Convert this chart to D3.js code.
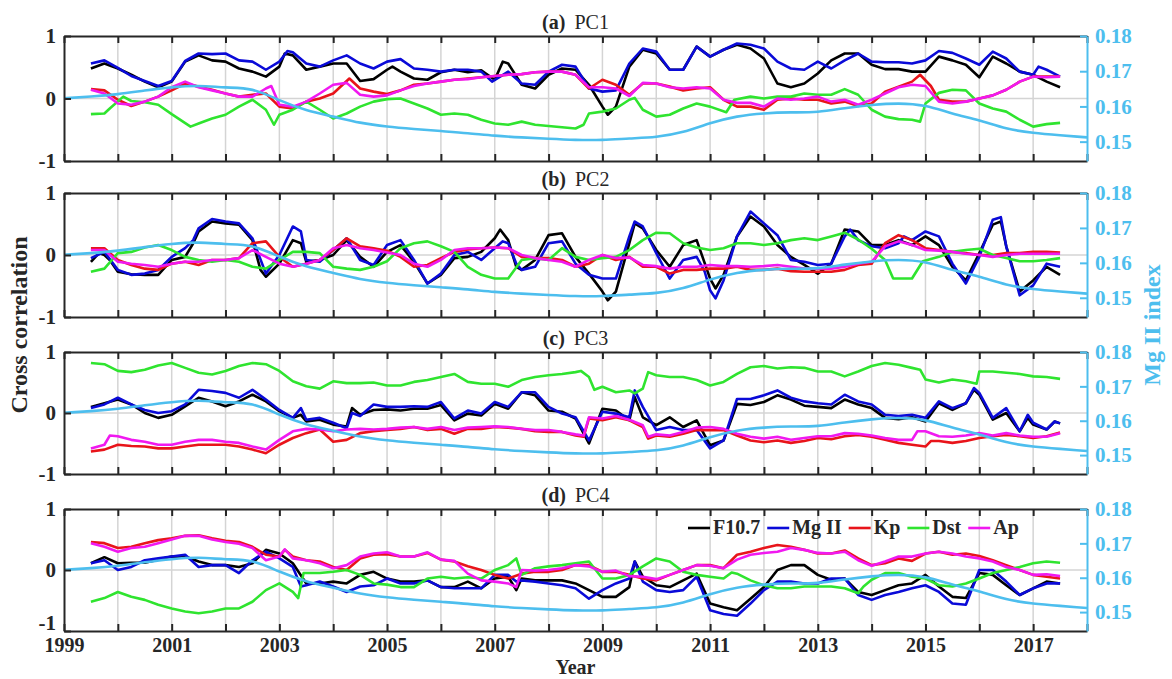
<!DOCTYPE html>
<html lang="en">
<head>
<meta charset="UTF-8">
<title>Cross correlation of PC1-PC4 with solar and geomagnetic indices</title>
<script src="https://d3js.org/d3.v7.min.js"></script>
<style>
  body { margin: 0; background: #fff; }
  svg { display: block; font-family: "Liberation Serif", "Times New Roman", serif; }
</style>
</head>
<body>
<svg width="1172" height="679"></svg>
<script>
// ---- data ----
const yearTicks = [1999, 2000, 2001, 2002, 2003, 2004, 2005, 2006, 2007, 2008, 2009,
                   2010, 2011, 2012, 2013, 2014, 2015, 2016, 2017, 2018];
const yearLabels = [1999, 2001, 2003, 2005, 2007, 2009, 2011, 2013, 2015, 2017];
const corrTicks = [-1, 0, 1];
const mgTicks = [0.15, 0.16, 0.17, 0.18];
const seriesNames = ["F10.7", "Mg II", "Kp", "Dst", "Ap"];
const seriesColors = ["#000000", "#0a0ad8", "#e8141a", "#2fe42f", "#f019f0"];
const panelLetters = ["(a)", "(b)", "(c)", "(d)"];
const panelNames = ["PC1", "PC2", "PC3", "PC4"];

// Mg II index (right axis)
const mgIndex = [[1999,.1623],[1999.5,.1628],[2000,.1635],[2000.5,.1645],[2001,.1654],[2001.5,.1658],[2002,.1654],[2002.5,.1647],[2003,.1618],[2003.5,.159],[2004,.1571],[2004.5,.1554],[2005,.1543],[2005.5,.1536],[2006,.153],[2006.5,.1524],[2007,.1517],[2007.5,.1512],[2008,.1508],[2008.5,.1505],[2009,.1505],[2009.5,.1509],[2010,.1514],[2010.5,.1528],[2011,.1552],[2011.5,.1571],[2012,.158],[2012.5,.1583],[2013,.1585],[2013.5,.1595],[2014,.1604],[2014.5,.1608],[2015,.1601],[2015.5,.158],[2016,.156],[2016.5,.1538],[2017,.1525],[2017.5,.1518],[2018,.1512]];

// (a) PC1
const pc1F107 = [[1999.5,.48],[1999.75,.56],[2000,.48],[2000.25,.38],[2000.5,.27],[2000.75,.18],[2001,.27],[2001.25,.59],[2001.5,.69],[2001.75,.61],[2002,.59],[2002.25,.48],[2002.5,.43],[2002.75,.35],[2003,.51],[2003.1,.72],[2003.25,.69],[2003.5,.46],[2003.75,.51],[2004,.56],[2004.25,.56],[2004.5,.28],[2004.75,.31],[2005,.46],[2005.1,.51],[2005.25,.43],[2005.5,.32],[2005.75,.3],[2006,.42],[2006.25,.46],[2006.5,.42],[2006.75,.45],[2007,.3],[2007.15,.59],[2007.25,.56],[2007.5,.22],[2007.75,.16],[2008,.38],[2008.25,.48],[2008.5,.46],[2008.75,.22],[2009,-.13],[2009.1,-.26],[2009.25,-.13],[2009.5,.51],[2009.75,.78],[2010,.72],[2010.25,.46],[2010.5,.46],[2010.75,.83],[2011,.67],[2011.25,.78],[2011.5,.86],[2011.75,.8],[2012,.64],[2012.25,.24],[2012.5,.18],[2012.75,.24],[2013,.4],[2013.25,.61],[2013.5,.72],[2013.75,.72],[2014,.54],[2014.25,.47],[2014.5,.47],[2014.75,.43],[2015,.43],[2015.25,.67],[2015.5,.61],[2015.75,.54],[2016,.34],[2016.25,.67],[2016.5,.56],[2016.75,.43],[2017,.38],[2017.25,.27],[2017.5,.18]];
const pc1MgII = [[1999.5,.56],[1999.75,.61],[2000,.49],[2000.25,.36],[2000.5,.28],[2000.75,.2],[2001,.28],[2001.25,.6],[2001.5,.72],[2001.75,.71],[2002,.72],[2002.25,.61],[2002.5,.59],[2002.75,.46],[2003,.59],[2003.15,.76],[2003.25,.74],[2003.5,.56],[2003.75,.51],[2004,.61],[2004.25,.69],[2004.5,.56],[2004.75,.48],[2005,.59],[2005.25,.63],[2005.5,.48],[2005.75,.46],[2006,.43],[2006.25,.46],[2006.5,.46],[2006.75,.43],[2006.95,.27],[2007.25,.43],[2007.5,.24],[2007.75,.22],[2008,.43],[2008.25,.54],[2008.5,.51],[2008.75,.16],[2009,.11],[2009.25,.13],[2009.5,.56],[2009.75,.8],[2010,.75],[2010.25,.46],[2010.5,.46],[2010.75,.83],[2011,.67],[2011.25,.78],[2011.5,.88],[2011.75,.86],[2012,.8],[2012.25,.59],[2012.5,.48],[2012.75,.46],[2013,.59],[2013.25,.48],[2013.5,.61],[2013.75,.72],[2014,.59],[2014.25,.58],[2014.5,.58],[2014.75,.56],[2015,.61],[2015.25,.76],[2015.5,.73],[2015.75,.64],[2016,.54],[2016.25,.75],[2016.5,.64],[2016.75,.43],[2017,.38],[2017.1,.51],[2017.25,.46],[2017.5,.35]];
const pc1Kp = [[1999.5,.15],[1999.75,.13],[2000,-.02],[2000.25,-.12],[2000.5,-.05],[2000.75,.03],[2001,.13],[2001.25,.24],[2001.5,.19],[2001.75,.14],[2002,.08],[2002.25,.03],[2002.5,.06],[2002.75,.08],[2003,-.13],[2003.25,-.16],[2003.5,-.05],[2003.75,0],[2004,.08],[2004.3,.32],[2004.5,.16],[2004.75,.11],[2005,.07],[2005.25,.13],[2005.5,.22],[2005.75,.24],[2006,.27],[2006.25,.3],[2006.5,.32],[2006.75,.34],[2007,.36],[2007.25,.38],[2007.5,.39],[2007.75,.42],[2008,.43],[2008.25,.43],[2008.5,.38],[2008.75,.16],[2009,.3],[2009.25,.22],[2009.5,.06],[2009.75,.24],[2010,.24],[2010.25,.19],[2010.5,.13],[2010.75,.16],[2011,.18],[2011.25,-.02],[2011.5,-.13],[2011.75,-.13],[2012,-.18],[2012.25,-.02],[2012.5,0],[2012.75,-.02],[2013,-.02],[2013.25,-.08],[2013.5,-.05],[2013.75,-.12],[2014,-.08],[2014.25,.11],[2014.5,.19],[2014.75,.27],[2014.9,.38],[2015.1,.2],[2015.25,-.02],[2015.5,-.05],[2015.75,-.05],[2016,0],[2016.25,.05],[2016.5,.14],[2016.75,.27],[2017,.35],[2017.25,.35],[2017.5,.35]];
const pc1Dst = [[1999.5,-.25],[1999.75,-.24],[1999.85,-.16],[2000.1,.03],[2000.25,-.04],[2000.5,-.06],[2000.75,-.1],[2001,-.25],[2001.35,-.45],[2001.5,-.4],[2001.75,-.32],[2002,-.26],[2002.25,-.13],[2002.5,-.02],[2002.75,-.18],[2002.9,-.42],[2003,-.26],[2003.25,-.18],[2003.5,-.05],[2003.75,-.18],[2004,-.32],[2004.25,-.24],[2004.5,-.13],[2004.75,-.05],[2005,-.01],[2005.25,0],[2005.5,-.08],[2005.75,-.16],[2006,-.26],[2006.25,-.24],[2006.5,-.26],[2006.75,-.34],[2007,-.4],[2007.25,-.42],[2007.5,-.37],[2007.75,-.42],[2008,-.44],[2008.25,-.46],[2008.5,-.48],[2008.65,-.42],[2008.75,-.24],[2009,-.21],[2009.25,-.16],[2009.5,-.02],[2009.6,.01],[2009.75,-.18],[2010,-.29],[2010.25,-.26],[2010.5,-.16],[2010.75,-.08],[2011,-.13],[2011.3,-.22],[2011.45,-.02],[2011.75,.03],[2012,0],[2012.25,.03],[2012.5,.03],[2012.75,.08],[2013,.06],[2013.25,.06],[2013.5,.15],[2013.75,.06],[2014,-.18],[2014.25,-.29],[2014.5,-.33],[2014.75,-.34],[2014.9,-.37],[2015,-.08],[2015.25,.09],[2015.5,.14],[2015.75,.13],[2016,-.08],[2016.25,-.16],[2016.5,-.21],[2016.75,-.34],[2017,-.45],[2017.25,-.41],[2017.5,-.39]];
const pc1Ap = [[1999.5,.14],[1999.75,.08],[2000,-.08],[2000.25,-.1],[2000.5,-.05],[2000.75,.03],[2001,.18],[2001.25,.27],[2001.5,.18],[2001.75,.13],[2002,.08],[2002.25,.03],[2002.5,.03],[2002.75,.16],[2002.85,.2],[2003,-.1],[2003.25,-.13],[2003.5,-.05],[2003.75,.08],[2004,.22],[2004.25,.25],[2004.5,.06],[2004.75,.03],[2005,.05],[2005.25,.13],[2005.5,.2],[2005.75,.24],[2006,.27],[2006.25,.3],[2006.5,.31],[2006.75,.34],[2007,.36],[2007.25,.38],[2007.5,.39],[2007.75,.42],[2008,.43],[2008.25,.43],[2008.5,.38],[2008.75,.18],[2009,.18],[2009.25,.16],[2009.5,.04],[2009.75,.25],[2010,.24],[2010.25,.18],[2010.5,.16],[2010.75,.18],[2011,.16],[2011.25,-.02],[2011.5,-.07],[2011.75,-.07],[2012,-.13],[2012.25,0],[2012.5,-.02],[2012.75,0],[2013,.03],[2013.25,-.05],[2013.5,-.02],[2013.75,-.1],[2014,-.02],[2014.25,.08],[2014.5,.18],[2014.75,.22],[2015,.2],[2015.25,-.05],[2015.5,-.08],[2015.75,-.05],[2016,0],[2016.25,.05],[2016.5,.14],[2016.75,.27],[2017,.35],[2017.25,.34],[2017.5,.35]];

// (b) PC2
const pc2F107 = [[1999.5,-.11],[1999.65,.03],[1999.75,0],[1999.85,-.08],[2000,-.27],[2000.25,-.31],[2000.5,-.32],[2000.75,-.32],[2001,-.08],[2001.25,-.03],[2001.4,.19],[2001.5,.38],[2001.75,.54],[2002,.51],[2002.25,.49],[2002.5,.24],[2002.65,-.24],[2002.75,-.35],[2003,-.14],[2003.25,.24],[2003.4,.19],[2003.5,-.11],[2003.75,-.08],[2004,0],[2004.25,.24],[2004.5,-.03],[2004.75,-.19],[2005,.05],[2005.25,.16],[2005.5,-.11],[2005.75,-.46],[2006,-.32],[2006.25,-.05],[2006.5,-.03],[2006.75,.05],[2007,.27],[2007.1,.41],[2007.25,.24],[2007.4,-.19],[2007.5,-.24],[2007.75,-.08],[2008,.32],[2008.25,.35],[2008.5,-.03],[2008.75,-.3],[2009,-.59],[2009.1,-.73],[2009.25,-.59],[2009.5,.19],[2009.6,.51],[2009.75,.43],[2010,.08],[2010.25,-.19],[2010.5,.16],[2010.75,.24],[2011,-.38],[2011.1,-.54],[2011.25,-.32],[2011.5,.3],[2011.75,.62],[2012,.46],[2012.25,.16],[2012.5,-.03],[2012.75,-.16],[2013,-.3],[2013.25,-.14],[2013.5,.41],[2013.75,.38],[2014,.16],[2014.25,.16],[2014.5,.24],[2014.75,.16],[2015,.3],[2015.25,.16],[2015.5,-.19],[2015.75,-.41],[2016,.03],[2016.25,.49],[2016.4,.54],[2016.5,.14],[2016.75,-.59],[2017,-.41],[2017.25,-.19],[2017.5,-.32]];
const pc2MgII = [[1999.5,-.05],[1999.75,.05],[2000,-.24],[2000.25,-.32],[2000.5,-.3],[2000.75,-.24],[2001,-.03],[2001.25,.11],[2001.4,.24],[2001.5,.43],[2001.75,.58],[2002,.54],[2002.25,.51],[2002.5,.27],[2002.75,-.3],[2003,0],[2003.25,.46],[2003.4,.38],[2003.5,-.08],[2003.75,-.11],[2004,.08],[2004.25,.27],[2004.5,-.08],[2004.75,-.16],[2005,.16],[2005.25,.24],[2005.5,-.08],[2005.75,-.46],[2006,-.3],[2006.25,0],[2006.5,.05],[2006.75,-.08],[2007,.11],[2007.15,.22],[2007.25,.19],[2007.4,-.14],[2007.5,-.24],[2007.75,-.19],[2008,.19],[2008.25,.22],[2008.5,-.14],[2008.75,-.32],[2009,-.38],[2009.25,-.38],[2009.5,.3],[2009.6,.54],[2009.75,.46],[2010,.03],[2010.25,-.38],[2010.5,-.08],[2010.75,-.03],[2010.9,-.27],[2011,-.57],[2011.1,-.7],[2011.25,-.41],[2011.5,.3],[2011.75,.7],[2012,.51],[2012.25,.32],[2012.5,-.08],[2012.75,-.11],[2013,-.16],[2013.25,-.14],[2013.5,.3],[2013.6,.41],[2013.75,.24],[2014,.14],[2014.25,.11],[2014.5,.19],[2014.6,.3],[2014.75,.24],[2015,.38],[2015.25,.3],[2015.5,-.14],[2015.75,-.46],[2016,-.03],[2016.25,.57],[2016.4,.61],[2016.5,.14],[2016.75,-.65],[2017,-.49],[2017.25,-.14],[2017.5,-.19]];
const pc2Kp = [[1999.5,.11],[1999.75,.11],[2000,-.08],[2000.25,-.16],[2000.5,-.22],[2000.75,-.24],[2001,-.14],[2001.25,-.11],[2001.5,-.16],[2001.75,-.08],[2002,-.08],[2002.25,-.05],[2002.5,.19],[2002.75,.22],[2003,-.03],[2003.25,-.19],[2003.5,-.14],[2003.75,-.08],[2004,.08],[2004.25,.27],[2004.5,.14],[2004.75,.11],[2005,.07],[2005.25,-.03],[2005.5,-.19],[2005.75,-.16],[2006,-.05],[2006.25,.05],[2006.5,.09],[2006.75,.11],[2007,.12],[2007.25,.11],[2007.5,-.03],[2007.75,-.05],[2008,-.05],[2008.25,-.08],[2008.5,-.19],[2008.75,-.14],[2009,0],[2009.25,-.08],[2009.5,-.03],[2009.75,-.19],[2010,-.19],[2010.25,-.3],[2010.5,-.24],[2010.75,-.24],[2011,-.22],[2011.25,-.22],[2011.5,-.19],[2011.75,-.24],[2012,-.24],[2012.25,-.22],[2012.5,-.26],[2012.75,-.27],[2013,-.27],[2013.25,-.27],[2013.5,-.24],[2013.75,-.16],[2014,-.14],[2014.25,.19],[2014.5,.32],[2014.75,.24],[2015,.11],[2015.25,.08],[2015.5,.05],[2015.75,.03],[2016,0],[2016.25,0],[2016.5,.03],[2016.75,.03],[2017,.05],[2017.25,.05],[2017.5,.04]];
const pc2Dst = [[1999.5,-.27],[1999.75,-.22],[2000,.03],[2000.25,.05],[2000.5,.12],[2000.75,.16],[2001,.08],[2001.25,-.03],[2001.5,-.08],[2001.75,-.11],[2002,-.08],[2002.25,-.11],[2002.5,-.19],[2002.75,-.22],[2003,-.08],[2003.25,.05],[2003.5,.05],[2003.75,.03],[2004,-.19],[2004.25,-.22],[2004.5,-.24],[2004.75,-.19],[2005,-.1],[2005.25,.11],[2005.5,.19],[2005.75,.22],[2006,.14],[2006.25,.05],[2006.5,-.19],[2006.75,-.32],[2007,-.38],[2007.25,-.38],[2007.5,-.08],[2007.75,-.05],[2008,-.08],[2008.25,.11],[2008.5,-.03],[2008.75,-.08],[2009,-.05],[2009.25,-.03],[2009.5,.08],[2009.75,.24],[2010,.36],[2010.25,.35],[2010.5,.19],[2010.75,.12],[2011,.08],[2011.25,.11],[2011.5,.19],[2011.75,.19],[2012,.16],[2012.25,.19],[2012.5,.24],[2012.75,.27],[2013,.24],[2013.25,.3],[2013.5,.36],[2013.75,.25],[2014,.1],[2014.25,-.08],[2014.4,-.38],[2014.75,-.38],[2014.95,-.1],[2015.25,-.03],[2015.5,.05],[2015.75,.08],[2016,.1],[2016.25,0],[2016.5,-.05],[2016.75,-.1],[2017,-.1],[2017.25,-.08],[2017.5,-.05]];
const pc2Ap = [[1999.5,.08],[1999.75,.08],[2000,-.11],[2000.25,-.14],[2000.5,-.16],[2000.75,-.19],[2001,-.14],[2001.25,-.11],[2001.5,-.11],[2001.75,-.08],[2002,-.08],[2002.25,-.05],[2002.5,.08],[2002.75,-.03],[2003,-.14],[2003.25,-.19],[2003.5,-.14],[2003.75,-.08],[2004,.11],[2004.25,.16],[2004.5,.11],[2004.75,.08],[2005,.04],[2005.25,0],[2005.5,-.14],[2005.75,-.19],[2006,-.08],[2006.25,.08],[2006.5,.11],[2006.75,.11],[2007,.12],[2007.25,.11],[2007.5,0],[2007.75,-.05],[2008,-.08],[2008.25,-.11],[2008.5,-.19],[2008.75,-.08],[2009,0],[2009.25,-.05],[2009.5,-.04],[2009.75,-.16],[2010,-.18],[2010.25,-.22],[2010.5,-.19],[2010.75,-.19],[2011,-.16],[2011.25,-.18],[2011.5,-.18],[2011.75,-.19],[2012,-.18],[2012.25,-.16],[2012.5,-.19],[2012.75,-.22],[2013,-.22],[2013.25,-.22],[2013.5,-.19],[2013.75,-.14],[2014,-.11],[2014.25,.14],[2014.5,.22],[2014.75,.16],[2015,.08],[2015.25,.07],[2015.5,.05],[2015.75,.02],[2016,0],[2016.25,-.03],[2016.5,0],[2016.75,.02],[2017,.02],[2017.25,.02],[2017.5,.02]];

// (c) PC3
const pc3F107 = [[1999.5,.1],[1999.75,.16],[2000,.22],[2000.25,.14],[2000.5,0],[2000.75,-.08],[2001,-.03],[2001.25,.11],[2001.5,.25],[2001.75,.19],[2002,.11],[2002.25,.19],[2002.5,.3],[2002.75,.19],[2003,.03],[2003.25,-.08],[2003.4,-.03],[2003.5,-.14],[2003.75,-.11],[2004,-.19],[2004.25,-.22],[2004.35,.08],[2004.5,-.03],[2004.75,.05],[2005,.06],[2005.25,.04],[2005.5,.07],[2005.75,.07],[2006,.13],[2006.25,-.12],[2006.5,-.01],[2006.75,-.04],[2007,.15],[2007.25,.07],[2007.5,.34],[2007.75,.29],[2008,.04],[2008.25,.02],[2008.5,-.09],[2008.75,-.5],[2009,.07],[2009.25,.04],[2009.5,-.12],[2009.6,.26],[2009.75,-.07],[2010,-.2],[2010.25,-.07],[2010.5,-.23],[2010.75,-.12],[2011,-.53],[2011.25,-.45],[2011.5,.15],[2011.75,.13],[2012,.18],[2012.25,.29],[2012.5,.22],[2012.75,.12],[2013,.1],[2013.25,.08],[2013.5,.22],[2013.75,.14],[2014,.08],[2014.25,-.08],[2014.5,-.1],[2014.75,-.07],[2015,-.14],[2015.25,.16],[2015.5,.05],[2015.75,.16],[2015.9,.38],[2016,.3],[2016.25,-.11],[2016.5,0],[2016.75,-.3],[2016.9,-.08],[2017,-.19],[2017.25,-.27],[2017.4,-.14],[2017.5,-.17]];
const pc3MgII = [[1999.5,.08],[1999.75,.14],[2000,.25],[2000.25,.14],[2000.5,.05],[2000.75,0],[2001,.03],[2001.25,.14],[2001.5,.38],[2001.75,.36],[2002,.33],[2002.25,.25],[2002.5,.38],[2002.75,.22],[2003,.05],[2003.25,-.08],[2003.4,.08],[2003.5,-.11],[2003.75,-.08],[2004,-.16],[2004.25,-.25],[2004.35,0],[2004.5,-.05],[2004.75,.14],[2005,.1],[2005.25,.1],[2005.5,.11],[2005.75,.1],[2006,.18],[2006.25,-.09],[2006.5,.04],[2006.75,-.01],[2007,.18],[2007.25,.1],[2007.5,.34],[2007.75,.34],[2008,.1],[2008.25,-.01],[2008.5,-.07],[2008.75,-.45],[2009,.02],[2009.25,-.01],[2009.5,-.07],[2009.6,.37],[2009.75,.1],[2010,-.28],[2010.25,-.23],[2010.5,-.28],[2010.75,-.28],[2011,-.58],[2011.25,-.45],[2011.5,.23],[2011.75,.23],[2012,.29],[2012.25,.37],[2012.5,.25],[2012.75,.19],[2013,.16],[2013.25,.14],[2013.5,.3],[2013.75,.19],[2014,.14],[2014.25,-.03],[2014.5,-.05],[2014.75,-.03],[2015,-.08],[2015.25,.19],[2015.5,.08],[2015.75,.16],[2015.9,.41],[2016,.33],[2016.25,-.08],[2016.5,.08],[2016.75,-.3],[2016.9,-.03],[2017,-.16],[2017.25,-.27],[2017.4,-.14],[2017.5,-.17]];
const pc3Kp = [[1999.5,-.63],[1999.75,-.6],[2000,-.52],[2000.25,-.54],[2000.5,-.55],[2000.75,-.58],[2001,-.58],[2001.25,-.55],[2001.5,-.52],[2001.75,-.52],[2002,-.52],[2002.25,-.55],[2002.5,-.6],[2002.75,-.66],[2003,-.52],[2003.25,-.41],[2003.5,-.33],[2003.75,-.27],[2004,-.47],[2004.25,-.44],[2004.5,-.33],[2004.75,-.3],[2005,-.28],[2005.25,-.26],[2005.5,-.23],[2005.75,-.28],[2006,-.26],[2006.25,-.34],[2006.5,-.26],[2006.75,-.26],[2007,-.23],[2007.25,-.24],[2007.5,-.26],[2007.75,-.3],[2008,-.31],[2008.25,-.31],[2008.5,-.37],[2008.65,-.39],[2008.75,-.09],[2009,-.12],[2009.25,-.07],[2009.5,-.12],[2009.75,-.23],[2009.85,-.42],[2010,-.37],[2010.25,-.39],[2010.5,-.34],[2010.75,-.28],[2011,-.28],[2011.25,-.28],[2011.5,-.37],[2011.75,-.45],[2012,-.48],[2012.25,-.45],[2012.5,-.49],[2012.75,-.46],[2013,-.41],[2013.25,-.43],[2013.5,-.38],[2013.75,-.36],[2014,-.39],[2014.25,-.44],[2014.5,-.49],[2014.75,-.52],[2015,-.55],[2015.1,-.46],[2015.25,-.46],[2015.5,-.49],[2015.75,-.46],[2016,-.41],[2016.25,-.38],[2016.5,-.36],[2016.75,-.38],[2017,-.41],[2017.25,-.38],[2017.5,-.32]];
const pc3Dst = [[1999.5,.82],[1999.75,.8],[2000,.69],[2000.25,.67],[2000.5,.71],[2000.75,.78],[2001,.82],[2001.25,.74],[2001.5,.66],[2001.75,.63],[2002,.69],[2002.25,.77],[2002.5,.82],[2002.75,.8],[2003,.69],[2003.25,.52],[2003.5,.44],[2003.75,.4],[2004,.52],[2004.25,.49],[2004.5,.49],[2004.75,.5],[2005,.45],[2005.25,.45],[2005.5,.51],[2005.75,.54],[2006,.59],[2006.25,.64],[2006.5,.51],[2006.75,.48],[2007,.48],[2007.25,.43],[2007.5,.54],[2007.75,.59],[2008,.62],[2008.25,.64],[2008.5,.67],[2008.6,.69],[2008.75,.59],[2008.85,.38],[2009,.43],[2009.25,.34],[2009.5,.37],[2009.6,.32],[2009.75,.4],[2009.85,.67],[2010,.62],[2010.25,.59],[2010.5,.59],[2010.75,.54],[2011,.45],[2011.25,.51],[2011.5,.64],[2011.75,.75],[2012,.77],[2012.25,.73],[2012.5,.75],[2012.75,.74],[2013,.68],[2013.25,.68],[2013.5,.6],[2013.75,.68],[2014,.77],[2014.25,.82],[2014.5,.79],[2014.75,.74],[2014.9,.71],[2015,.55],[2015.25,.5],[2015.5,.55],[2015.75,.52],[2015.95,.48],[2016,.68],[2016.25,.68],[2016.5,.66],[2016.75,.64],[2017,.6],[2017.25,.59],[2017.5,.56]];
const pc3Ap = [[1999.5,-.58],[1999.75,-.52],[1999.85,-.37],[2000,-.38],[2000.25,-.44],[2000.5,-.47],[2000.75,-.52],[2001,-.52],[2001.25,-.47],[2001.5,-.44],[2001.75,-.44],[2002,-.47],[2002.25,-.49],[2002.5,-.55],[2002.75,-.6],[2003,-.44],[2003.25,-.3],[2003.5,-.26],[2003.75,-.27],[2004,-.3],[2004.25,-.27],[2004.5,-.26],[2004.75,-.27],[2005,-.26],[2005.25,-.24],[2005.5,-.23],[2005.75,-.26],[2006,-.23],[2006.25,-.28],[2006.5,-.24],[2006.75,-.23],[2007,-.22],[2007.25,-.23],[2007.5,-.26],[2007.75,-.28],[2008,-.28],[2008.25,-.31],[2008.5,-.35],[2008.65,-.37],[2008.75,-.07],[2009,-.09],[2009.25,-.05],[2009.5,-.11],[2009.75,-.2],[2009.85,-.39],[2010,-.35],[2010.25,-.37],[2010.5,-.31],[2010.75,-.24],[2011,-.23],[2011.25,-.26],[2011.5,-.34],[2011.75,-.39],[2012,-.42],[2012.25,-.39],[2012.5,-.44],[2012.75,-.41],[2013,-.38],[2013.25,-.38],[2013.5,-.33],[2013.75,-.34],[2014,-.37],[2014.25,-.41],[2014.5,-.44],[2014.75,-.44],[2014.85,-.3],[2015,-.3],[2015.25,-.38],[2015.5,-.39],[2015.75,-.37],[2016,-.33],[2016.25,-.37],[2016.5,-.33],[2016.75,-.37],[2017,-.39],[2017.25,-.39],[2017.5,-.33]];

// (d) PC4
const pc4F107 = [[1999.5,.11],[1999.75,.21],[2000,.11],[2000.25,.12],[2000.5,.12],[2000.75,.17],[2001,.22],[2001.25,.22],[2001.5,.14],[2001.75,.08],[2002,.08],[2002.25,.05],[2002.5,.11],[2002.75,.33],[2003,.27],[2003.25,.11],[2003.5,-.22],[2003.75,-.22],[2004,-.19],[2004.25,-.22],[2004.5,-.08],[2004.75,-.03],[2005,-.14],[2005.25,-.19],[2005.5,-.19],[2005.75,-.17],[2006,-.28],[2006.25,-.28],[2006.5,-.19],[2006.75,-.3],[2007,-.14],[2007.25,-.11],[2007.4,-.33],[2007.5,-.14],[2007.75,-.17],[2008,-.17],[2008.25,-.17],[2008.5,-.22],[2008.75,-.33],[2009,-.44],[2009.25,-.44],[2009.5,-.28],[2009.6,.14],[2009.75,-.11],[2010,-.25],[2010.25,-.28],[2010.5,-.17],[2010.75,-.06],[2011,-.55],[2011.25,-.61],[2011.5,-.66],[2011.75,-.47],[2012,-.28],[2012.25,0],[2012.5,.08],[2012.75,.08],[2013,-.08],[2013.25,-.16],[2013.5,-.14],[2013.75,-.36],[2014,-.41],[2014.25,-.33],[2014.5,-.25],[2014.75,-.22],[2015,-.08],[2015.25,-.27],[2015.5,-.44],[2015.75,-.46],[2016,-.05],[2016.25,-.08],[2016.5,-.25],[2016.75,-.41],[2017,-.3],[2017.25,-.19],[2017.5,-.22]];
const pc4MgII = [[1999.5,.11],[1999.75,.16],[2000,0],[2000.25,.05],[2000.5,.16],[2000.75,.19],[2001,.22],[2001.25,.25],[2001.5,.05],[2001.75,.08],[2002,.08],[2002.25,-.05],[2002.5,.16],[2002.75,.3],[2003,.19],[2003.25,.05],[2003.4,-.27],[2003.5,-.25],[2003.75,-.19],[2004,-.27],[2004.25,-.36],[2004.5,-.27],[2004.75,-.25],[2005,-.14],[2005.25,-.22],[2005.5,-.22],[2005.75,-.17],[2006,-.28],[2006.25,-.3],[2006.5,-.3],[2006.75,-.3],[2007,-.08],[2007.25,-.08],[2007.4,-.19],[2007.5,-.17],[2007.75,-.19],[2008,-.22],[2008.25,-.25],[2008.5,-.3],[2008.75,-.47],[2009,-.33],[2009.25,-.22],[2009.5,-.14],[2009.6,.14],[2009.75,-.19],[2010,-.33],[2010.25,-.36],[2010.5,-.33],[2010.75,-.11],[2011,-.66],[2011.25,-.72],[2011.5,-.75],[2011.75,-.55],[2012,-.33],[2012.25,-.19],[2012.5,-.19],[2012.75,-.22],[2013,-.22],[2013.25,-.14],[2013.5,-.14],[2013.75,-.41],[2014,-.49],[2014.25,-.41],[2014.5,-.36],[2014.75,-.3],[2015,-.25],[2015.25,-.36],[2015.5,-.55],[2015.75,-.57],[2016,0],[2016.25,0],[2016.5,-.19],[2016.75,-.41],[2017,-.3],[2017.25,-.22],[2017.5,-.22]];
const pc4Kp = [[1999.5,.46],[1999.75,.44],[2000,.36],[2000.25,.38],[2000.5,.44],[2000.75,.49],[2001,.52],[2001.25,.56],[2001.5,.57],[2001.75,.52],[2002,.48],[2002.25,.46],[2002.5,.38],[2002.75,.25],[2003,.22],[2003.1,.33],[2003.25,.22],[2003.5,.16],[2003.75,.14],[2004,.05],[2004.25,0],[2004.5,.19],[2004.75,.25],[2005,.26],[2005.25,.22],[2005.5,.22],[2005.75,.28],[2006,.17],[2006.25,.14],[2006.5,.06],[2006.75,0],[2007,-.08],[2007.25,-.14],[2007.5,-.06],[2007.75,-.03],[2008,-.03],[2008.25,0],[2008.5,.08],[2008.75,.08],[2009,-.03],[2009.25,-.03],[2009.5,-.08],[2009.75,-.14],[2010,-.17],[2010.25,-.08],[2010.5,0],[2010.75,.08],[2011,.08],[2011.25,.03],[2011.5,.25],[2011.75,.3],[2012,.36],[2012.25,.41],[2012.5,.38],[2012.75,.33],[2013,.27],[2013.25,.27],[2013.5,.32],[2013.75,.19],[2014,.08],[2014.25,.11],[2014.5,.19],[2014.75,.15],[2015,.27],[2015.25,.3],[2015.5,.25],[2015.75,.27],[2016,.23],[2016.25,.16],[2016.5,.08],[2016.75,0],[2017,-.08],[2017.25,-.11],[2017.5,-.14]];
const pc4Dst = [[1999.5,-.52],[1999.75,-.46],[2000,-.36],[2000.25,-.44],[2000.5,-.49],[2000.75,-.57],[2001,-.63],[2001.25,-.68],[2001.5,-.71],[2001.75,-.68],[2002,-.63],[2002.25,-.63],[2002.5,-.52],[2002.75,-.33],[2003,-.22],[2003.25,-.36],[2003.35,-.46],[2003.45,-.05],[2003.75,-.05],[2004,-.03],[2004.25,0],[2004.5,-.08],[2004.75,-.22],[2005,-.24],[2005.25,-.28],[2005.5,-.28],[2005.75,-.14],[2006,-.11],[2006.25,-.14],[2006.5,-.12],[2006.75,-.14],[2007,0],[2007.25,.08],[2007.4,.19],[2007.5,-.08],[2007.75,.03],[2008,.06],[2008.25,.08],[2008.5,.11],[2008.75,.14],[2009,-.14],[2009.25,-.14],[2009.5,-.08],[2009.75,.06],[2010,.19],[2010.25,.14],[2010.5,-.03],[2010.75,-.08],[2011,-.11],[2011.25,-.14],[2011.4,-.04],[2011.5,-.06],[2011.75,-.17],[2012,-.25],[2012.25,-.3],[2012.5,-.3],[2012.75,-.27],[2013,-.27],[2013.25,-.27],[2013.5,-.3],[2013.75,-.38],[2013.85,-.27],[2014,-.16],[2014.25,-.05],[2014.5,-.05],[2014.75,-.11],[2015,-.14],[2015.25,-.25],[2015.5,-.27],[2015.75,-.22],[2016,-.14],[2016.25,-.05],[2016.5,0],[2016.75,.05],[2017,.11],[2017.25,.14],[2017.5,.12]];
const pc4Ap = [[1999.5,.44],[1999.75,.38],[2000,.3],[2000.25,.36],[2000.5,.38],[2000.75,.44],[2001,.5],[2001.25,.56],[2001.5,.56],[2001.75,.5],[2002,.46],[2002.25,.43],[2002.5,.36],[2002.75,.16],[2003,.22],[2003.1,.34],[2003.25,.19],[2003.5,.16],[2003.75,.11],[2004,.03],[2004.25,.08],[2004.5,.22],[2004.75,.27],[2005,.29],[2005.25,.22],[2005.5,.22],[2005.75,.29],[2006,.17],[2006.25,.15],[2006.5,-.06],[2006.75,-.17],[2007,-.19],[2007.25,-.22],[2007.4,-.28],[2007.5,0],[2007.75,-.01],[2008,0],[2008.25,.03],[2008.5,.08],[2008.75,.06],[2009,-.03],[2009.25,-.01],[2009.5,-.1],[2009.75,-.11],[2010,-.15],[2010.25,-.08],[2010.5,0],[2010.75,.08],[2011,.07],[2011.25,.03],[2011.5,.17],[2011.75,.25],[2012,.28],[2012.25,.3],[2012.5,.36],[2012.75,.33],[2013,.28],[2013.25,.27],[2013.5,.3],[2013.75,.16],[2014,.07],[2014.25,.14],[2014.5,.22],[2014.75,.22],[2015,.27],[2015.25,.3],[2015.5,.27],[2015.75,.22],[2016,.19],[2016.25,.14],[2016.5,.05],[2016.75,0],[2017,-.08],[2017.25,-.07],[2017.5,-.1]];

const panelSeries = [
    [pc1F107, pc1MgII, pc1Kp, pc1Dst, pc1Ap],
    [pc2F107, pc2MgII, pc2Kp, pc2Dst, pc2Ap],
    [pc3F107, pc3MgII, pc3Kp, pc3Dst, pc3Ap],
    [pc4F107, pc4MgII, pc4Kp, pc4Dst, pc4Ap]
];

// ---- layout ----
const left = 64, right = 1087;
const panelTop = [36, 193, 352, 509];
const panelBottom = [161, 317, 474, 631];
const mgColor = "#4dbeee";
const inkColor = "#262626";
const gridColor = "#d4d4d4";

const svg = d3.select("svg");

const x = d3.scaleLinear().domain([1999, 2018]).range([left, right]);

function styleAxis(g, color, size) {
    g.selectAll("path.domain").attr("stroke", color).attr("stroke-width", 2);
    g.selectAll(".tick line").attr("stroke", color).attr("stroke-width", 2);
    g.selectAll(".tick text")
        .attr("fill", color)
        .attr("font-size", size || 21)
        .attr("font-weight", "bold")
        .attr("font-family", '"Liberation Serif", "Times New Roman", serif');
}

panelSeries.forEach((series, i) => {
    const top = panelTop[i], bottom = panelBottom[i];
    const y = d3.scaleLinear().domain([-1, 1]).range([bottom, top]);
    const yR = d3.scaleLinear().domain([0.1445, 0.18]).range([bottom, top]);
    const g = svg.append("g");

    g.append("clipPath").attr("id", "clip" + i)
        .append("rect")
        .attr("x", left).attr("y", top)
        .attr("width", right - left).attr("height", bottom - top);

    // grid
    g.append("g").selectAll("line")
        .data(yearTicks.slice(1, -1))
        .join("line")
        .attr("x1", d => x(d)).attr("x2", d => x(d))
        .attr("y1", top).attr("y2", bottom)
        .attr("stroke", gridColor).attr("stroke-width", 1.5);
    g.append("line")
        .attr("x1", left).attr("x2", right)
        .attr("y1", y(0)).attr("y2", y(0))
        .attr("stroke", gridColor).attr("stroke-width", 1.5);

    // correlation curves
    const line = d3.line().x(d => x(d[0])).y(d => y(d[1]));
    const plot = g.append("g").attr("clip-path", `url(#clip${i})`);
    plot.selectAll("path.series")
        .data(series)
        .join("path")
        .attr("class", "series")
        .attr("fill", "none")
        .attr("stroke", (d, k) => seriesColors[k])
        .attr("stroke-width", 2.6)
        .attr("stroke-linejoin", "round")
        .attr("d", line);

    // Mg II index on the right axis
    plot.append("path")
        .datum(mgIndex)
        .attr("fill", "none")
        .attr("stroke", mgColor)
        .attr("stroke-width", 2.6)
        .attr("d", d3.line().curve(d3.curveNatural).x(d => x(d[0])).y(d => yR(d[1])));

    // axes (ticks point inward, MATLAB style)
    const gb = g.append("g").attr("transform", `translate(0,${bottom})`)
        .call(d3.axisBottom(x).tickValues(yearTicks).tickSizeInner(-7).tickSizeOuter(0).tickPadding(7)
            .tickFormat(d => (i === 3 && yearLabels.includes(d)) ? d : ""));
    styleAxis(gb, inkColor, 20);

    const gt = g.append("g").attr("transform", `translate(0,${top})`)
        .call(d3.axisTop(x).tickValues(yearTicks).tickSizeInner(-7).tickSizeOuter(0).tickFormat(""));
    styleAxis(gt, inkColor);

    const gl = g.append("g").attr("transform", `translate(${left},0)`)
        .call(d3.axisLeft(y).tickValues(corrTicks).tickSizeInner(-7).tickSizeOuter(0).tickPadding(8)
            .tickFormat(d => String(d)));
    styleAxis(gl, inkColor);
    // keep the lowest label of the bottom panel clear of the year labels
    if (i === 3) gl.selectAll(".tick text").filter(d => d === -1).attr("dy", "-0.05em");

    const gr = g.append("g").attr("transform", `translate(${right},0)`)
        .call(d3.axisRight(yR).tickValues(mgTicks).tickSizeInner(-7).tickSizeOuter(0).tickPadding(8)
            .tickFormat(d3.format(".2f")));
    styleAxis(gr, mgColor);

    // panel title
    const t = g.append("text")
        .attr("x", (left + right) / 2).attr("y", top - 7)
        .attr("text-anchor", "middle")
        .attr("font-size", 20)
        .attr("fill", inkColor);
    t.append("tspan").attr("font-weight", "bold").text(panelLetters[i]);
    t.append("tspan").attr("dx", 9).text(panelNames[i]);
});

// legend inside panel (d)
const legend = svg.append("g").attr("transform", "translate(688,528)");
let lx = 0;
seriesNames.forEach((name, k) => {
    legend.append("line")
        .attr("x1", lx).attr("x2", lx + 22)
        .attr("y1", 0).attr("y2", 0)
        .attr("stroke", seriesColors[k]).attr("stroke-width", 2.6);
    const txt = legend.append("text")
        .attr("x", lx + 25).attr("y", 6)
        .attr("font-size", 20).attr("font-weight", "bold")
        .attr("fill", inkColor)
        .text(name);
    lx += 25 + txt.node().getComputedTextLength() + 7;
});

// axis titles
svg.append("text")
    .attr("transform", "translate(27,325) rotate(-90)")
    .attr("text-anchor", "middle")
    .attr("font-size", 24).attr("font-weight", "bold")
    .attr("fill", inkColor)
    .text("Cross correlation");

svg.append("text")
    .attr("transform", "translate(1160,325) rotate(-90)")
    .attr("text-anchor", "middle")
    .attr("font-size", 24).attr("font-weight", "bold")
    .attr("fill", mgColor)
    .text("Mg II index");

svg.append("text")
    .attr("x", (left + right) / 2).attr("y", 674)
    .attr("text-anchor", "middle")
    .attr("font-size", 20).attr("font-weight", "bold")
    .attr("fill", inkColor)
    .text("Year");
</script>
</body>
</html>
